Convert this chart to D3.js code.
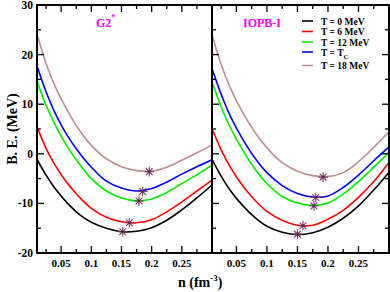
<!DOCTYPE html>
<html><head><meta charset="utf-8">
<script src="https://cdn.jsdelivr.net/npm/d3@7"></script>
<style>
html,body{margin:0;padding:0;background:#fff;}
svg{display:block;}
text{font-family:"Liberation Serif","Times New Roman",serif;font-weight:bold;}
</style></head>
<body>
<svg id="c" width="390" height="292"></svg>
<script>
// ---------- data ----------
const nGrid = [0.01, 0.025, 0.04, 0.06, 0.08, 0.1, 0.125, 0.15, 0.175, 0.2, 0.225, 0.25, 0.275, 0.3];
const temps = ["T = 0 MeV", "T = 6 MeV", "T = 12 MeV", "T = T_C", "T = 18 MeV"];
const colors = ["#000000", "#ff0000", "#00ee00", "#0000ff", "#bc8f8f"];
const panels = ["G2*", "IOPB-I"];

// G2* panel
const g2_T0  = [-1.1, -4.3, -7.0, -9.9, -12.2, -13.8, -15.0, -15.7, -15.6, -14.9, -13.4, -11.3, -8.9, -6.3];
const g2_T6  = [5.5, 1.1, -2.3, -5.9, -8.7, -11.0, -12.8, -13.7, -13.9, -13.3, -11.7, -9.7, -7.5, -5.3];
const g2_T12 = [14.6, 9.8, 5.9, 1.5, -2.0, -5.0, -7.5, -8.9, -9.5, -9.1, -7.8, -6.0, -4.2, -2.3];
const g2_TC  = [17.7, 12.5, 8.2, 3.7, 0.2, -2.7, -5.5, -6.9, -7.5, -7.0, -5.7, -4.1, -2.6, -1.2];
const g2_T18 = [24.2, 18.2, 13.6, 8.8, 4.8, 1.7, -1.0, -2.6, -3.4, -3.5, -2.7, -1.3, 0.2, 1.8];
const g2_satN = [0.152, 0.163, 0.179, 0.185, 0.196];
const g2_satE = [-15.7, -13.9, -9.5, -7.6, -3.6];

// IOPB-I panel
const iopb_T0  = [-1.1, -4.5, -7.4, -10.4, -12.8, -14.6, -15.8, -16.3, -15.9, -14.8, -13.0, -10.5, -7.3, -3.7];
const iopb_T6  = [5.1, 0.8, -2.7, -6.4, -9.3, -11.6, -13.4, -14.4, -14.4, -13.2, -11.4, -8.8, -5.6, -1.75];
const iopb_T12 = [14.5, 9.5, 5.3, 0.8, -3.0, -6.0, -8.6, -9.9, -10.4, -9.9, -8.1, -5.6, -2.7, 0.3];
const iopb_TC  = [17.2, 12.0, 7.6, 3.0, -0.8, -3.8, -6.4, -8.0, -8.7, -8.5, -6.8, -4.3, -1.4, 1.4];
const iopb_T18 = [24.0, 18.0, 13.3, 8.4, 4.4, 1.2, -1.8, -3.5, -4.4, -4.6, -3.8, -1.6, 1.3, 4.5];
const iopb_satN = [0.150, 0.159, 0.177, 0.180, 0.192];
const iopb_satE = [-16.2, -14.5, -10.5, -8.8, -4.7];

const xTicks = [0.05, 0.1, 0.15, 0.2, 0.25];
const xTickLabels = ["0.05", "0.1", "0.15", "0.2", "0.25"];
const yTicks = [-20, -10, 0, 10, 20, 30];

// ---------- drawing ----------
const svg = d3.select("#c");
const yTop = 5, yBot = 253;
const y = d3.scaleLinear().domain([-20, 30]).range([yBot, yTop]);
const xs = [
  d3.scaleLinear().domain([0.01, 0.3]).range([37, 212]),
  d3.scaleLinear().domain([0.01, 0.3]).range([212, 389])
];
const series = [
  [g2_T0, g2_T6, g2_T12, g2_TC, g2_T18],
  [iopb_T0, iopb_T6, iopb_T12, iopb_TC, iopb_T18]
];
const sats = [[g2_satN, g2_satE], [iopb_satN, iopb_satE]];

const defs = svg.append("defs");
xs.forEach((x, p) => {
  defs.append("clipPath").attr("id", "clip" + p).append("rect")
    .attr("x", x.range()[0]).attr("y", yTop).attr("width", x.range()[1] - x.range()[0]).attr("height", yBot - yTop);
});

const minorX = d3.range(0.025, 0.3, 0.025).map(v => +v.toFixed(3));
const minorY = d3.range(-15, 30, 5);

xs.forEach((x, p) => {
  const g = svg.append("g");
  const [x0, x1] = x.range();
  const line = d3.line().x((d, i) => x(nGrid[i])).y(d => y(d)).curve(d3.curveCatmullRom.alpha(0.5));
  const cg = g.append("g").attr("clip-path", `url(#clip${p})`);
  series[p].forEach((s, k) => {
    cg.append("path").attr("d", line(s)).attr("fill", "none")
      .attr("stroke", colors[k]).attr("stroke-width", 1.6);
  });
  const [sn, se] = sats[p];
  sn.forEach((n, i) => {
    const cx = x(n), cy = y(se[i]);
    const sg = g.append("g").attr("transform", `translate(${cx},${cy})`);
    [0, 45, 90, 135].forEach(a => {
      const r = 4.8, rad = a * Math.PI / 180;
      sg.append("line").attr("x1", -r * Math.cos(rad)).attr("y1", -r * Math.sin(rad))
        .attr("x2", r * Math.cos(rad)).attr("y2", r * Math.sin(rad))
        .attr("stroke", "#7a3b68").attr("stroke-width", 1.1);
    });
    sg.append("circle").attr("r", 1.4).attr("fill", "#5a2a4a");
  });
  const tk = g.append("g").attr("stroke", "#000").attr("stroke-width", 1.3);
  minorX.forEach(v => {
    const major = Math.abs(v * 20 - Math.round(v * 20)) < 1e-6;
    const L = major ? 7 : 4;
    tk.append("line").attr("x1", x(v)).attr("x2", x(v)).attr("y1", yBot).attr("y2", yBot - L);
    tk.append("line").attr("x1", x(v)).attr("x2", x(v)).attr("y1", yTop).attr("y2", yTop + L);
  });
  minorY.forEach(v => {
    const major = v % 10 === 0;
    const L = major ? 7 : 4;
    tk.append("line").attr("x1", x0).attr("x2", x0 + L).attr("y1", y(v)).attr("y2", y(v));
    if (p === 1) tk.append("line").attr("x1", x1).attr("x2", x1 - L).attr("y1", y(v)).attr("y2", y(v));
  });
  xTicks.forEach((v, i) => {
    g.append("text").attr("x", x(v)).attr("y", 267).attr("text-anchor", "middle")
      .attr("font-size", 11).text(xTickLabels[i]);
  });
  g.append("rect").attr("x", x0).attr("y", yTop).attr("width", x1 - x0).attr("height", yBot - yTop)
    .attr("fill", "none").attr("stroke", "#000").attr("stroke-width", 2);
});

yTicks.forEach(v => {
  svg.append("text").attr("x", 33).attr("y", y(v) + 4).attr("text-anchor", "end")
    .attr("font-size", 11.5).text(v);
});

const t1 = svg.append("text").attr("x", 96).attr("y", 27).attr("fill", "#ff00ff").attr("font-size", 12);
t1.append("tspan").text("G2");
t1.append("tspan").attr("dy", -7).attr("font-size", 8).text("*");
svg.append("text").attr("x", 243).attr("y", 27).attr("fill", "#ff00ff").attr("font-size", 12).text(panels[1]);

const legY = [21, 31.5, 42, 52, 65.5];
temps.forEach((t, i) => {
  svg.append("line").attr("x1", 302).attr("x2", 313).attr("y1", legY[i]).attr("y2", legY[i])
    .attr("stroke", colors[i]).attr("stroke-width", 1.6);
  const tx = svg.append("text").attr("x", 321).attr("y", legY[i] + 3.5).attr("font-size", 9.5);
  if (t.indexOf("_") >= 0) {
    const parts = t.split("_");
    tx.append("tspan").text(parts[0]);
    tx.append("tspan").attr("dy", 3).attr("font-size", 7).text(parts[1]);
  } else tx.text(t);
});

svg.append("text").attr("transform", "translate(17,129) rotate(-90)").attr("text-anchor", "middle")
  .attr("font-size", 14).text("B. E. (MeV)");
const xt = svg.append("text").attr("x", 178).attr("y", 287).attr("font-size", 14);
xt.append("tspan").text("n (fm");
xt.append("tspan").attr("dy", -6).attr("font-size", 9).text("-3");
xt.append("tspan").attr("dy", 6).text(")");
</script>
</body></html>
